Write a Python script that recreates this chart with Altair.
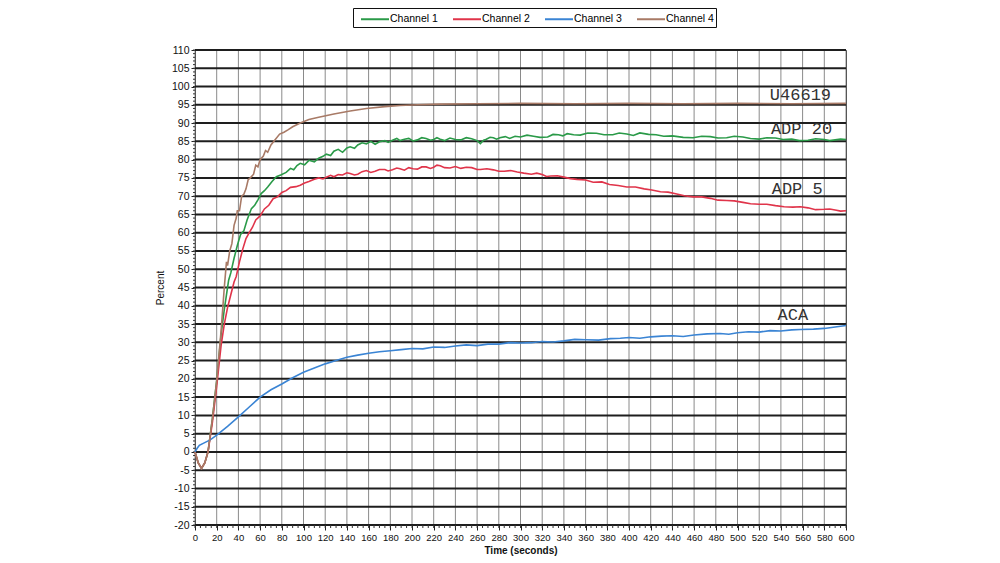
import altair as alt
import pandas as pd

# ---- data ----
ch1_t = [0, 3, 6, 9, 12, 16, 20, 24, 27, 29, 31, 33, 36, 39, 42, 45, 48, 52, 55, 58, 61, 64, 67, 71, 75, 79, 84, 88, 91, 94, 97, 101, 105, 110, 114, 118, 121, 125, 128, 132, 136, 140, 143, 147, 150, 154, 158, 162, 166, 170, 175, 178, 182, 186, 189, 193, 197, 201, 205, 209, 213, 217, 220, 223, 226, 230, 235, 240, 245, 250, 255, 260, 263, 266, 268, 272, 275, 278, 281, 286, 290, 295, 300, 306, 312, 318, 325, 330, 335, 339, 343, 349, 355, 362, 370, 377, 385, 391, 398, 404, 410, 418, 425, 432, 440, 450, 459, 467, 475, 482, 490, 497, 505, 512, 520, 527, 535, 542, 550, 557, 565, 572, 580, 585, 590, 595, 600]
ch1_v = [0, -3, -4.5, -3, 0, 9, 19.5, 32, 39, 43, 47, 49, 53, 56.5, 59.5, 60.5, 63.5, 66.6, 67.5, 69, 70.7, 71.5, 72.5, 74, 75.3, 75.8, 76.5, 77.6, 77.2, 78.4, 79, 78.6, 79.8, 79.4, 80.4, 80.9, 81.5, 81.1, 82.3, 82.8, 82, 83.2, 83.5, 83.1, 84, 84.6, 84.3, 85, 84.2, 84.9, 85.2, 84.7, 85.3, 85.8, 85.2, 85.6, 85.8, 85.1, 85.4, 86, 85.8, 85.3, 85.5, 86, 85.6, 85.2, 85.9, 85.5, 85.4, 86, 85.7, 85.2, 84.4, 85.3, 85.5, 86.1, 86, 85.6, 86, 86.3, 85.8, 86.4, 86.2, 86.7, 86.4, 86.1, 86.2, 86.9, 86.8, 86.5, 87.1, 86.8, 86.7, 87.3, 87.2, 86.8, 86.8, 87.3, 87, 86.6, 87.3, 86.9, 86.8, 86.4, 86.5, 86.1, 86, 86.4, 86.3, 85.9, 86, 86.4, 86.2, 85.8, 85.6, 86, 85.9, 85.5, 85.6, 85.2, 85.3, 85.7, 85.5, 85.2, 85.4, 85.6, 85.5]

ch2_t = [0, 3, 6, 9, 12, 16, 20, 24, 27, 30, 33, 36, 38, 41, 44, 47, 50, 53, 56, 60, 64, 68, 72, 76, 80, 84, 88, 93, 97, 101, 105, 110, 114, 118, 121, 125, 128, 132, 136, 140, 143, 147, 150, 154, 158, 162, 166, 170, 175, 178, 182, 186, 189, 193, 197, 201, 205, 209, 213, 217, 220, 223, 226, 230, 235, 240, 245, 250, 255, 260, 263, 269, 275, 280, 285, 291, 297, 303, 310, 315, 320, 324, 328, 334, 340, 346, 352, 360, 367, 375, 382, 390, 398, 406, 414, 421, 429, 436, 444, 451, 459, 467, 475, 482, 490, 497, 505, 512, 520, 527, 535, 543, 551, 558, 565, 572, 580, 585, 590, 595, 600]
ch2_v = [0, -3, -4.5, -3, 0, 8, 18, 29, 35, 39.5, 43, 46.5, 48, 52, 55.5, 58.4, 60, 61.5, 63.5, 64.6, 66.5, 67.5, 69.3, 69.8, 71, 71.5, 72.4, 72.6, 73, 73.6, 74, 74.6, 75, 74.7, 75.2, 75.7, 75.3, 75.9, 75.8, 76.4, 76.2, 75.8, 76, 76.7, 77, 76.5, 76.8, 77.3, 77.3, 76.9, 77.2, 77.7, 77.5, 77.1, 77.8, 77.5, 77.4, 78, 78, 77.6, 77.9, 78.5, 78.3, 77.8, 77.7, 78.1, 77.6, 77.9, 77.8, 77.3, 77.3, 77.5, 77.2, 76.8, 76.8, 77, 76.6, 76.3, 76, 76.3, 75.9, 75.4, 75.5, 75.6, 75.2, 74.8, 74.6, 74.4, 73.8, 73.9, 73.2, 72.9, 72.5, 72.5, 72, 71.7, 71.2, 71.1, 70.6, 70.1, 69.8, 69.8, 69.4, 68.9, 68.8, 68.7, 68.3, 67.9, 67.8, 67.8, 67.4, 67.1, 67, 67.1, 66.8, 66.3, 66.4, 66.5, 66.2, 65.9, 66]

ch3_t = [0, 2, 4, 8, 14, 20, 30, 40, 50, 60, 70, 80, 90, 100, 110, 120, 130, 140, 150, 160, 170, 180, 190, 200, 210, 220, 230, 240, 250, 260, 270, 280, 290, 300, 310, 320, 330, 340, 350, 360, 372, 383, 392, 400, 410, 420, 430, 440, 450, 460, 472, 484, 492, 500, 510, 520, 530, 540, 550, 558, 570, 580, 590, 600]
ch3_v = [0, 1, 1.8, 2.4, 3.3, 4.6, 7, 9.6, 12.3, 15, 17, 18.6, 20.3, 21.8, 23, 24.1, 25, 25.9, 26.5, 27, 27.4, 27.7, 28, 28.3, 28.2, 28.7, 28.6, 29, 29.3, 29.1, 29.5, 29.5, 29.9, 29.8, 29.9, 30.2, 30.1, 30.4, 30.8, 30.7, 30.6, 31, 31.1, 31.3, 31.1, 31.5, 31.7, 31.8, 31.6, 32, 32.3, 32.4, 32.2, 32.6, 32.9, 32.8, 33.2, 33.1, 33.4, 33.5, 33.6, 33.8, 34.2, 34.6]

ch4_t = [0, 3, 6, 9, 12, 16, 20, 24, 27, 29, 30, 32, 34, 36, 38, 39, 41, 43, 45, 47, 49, 51, 54, 56, 58, 60, 63, 65, 67, 70, 74, 78, 82, 86, 90, 97, 105, 114, 128, 143, 158, 175, 189, 205, 226, 260, 300, 350, 400, 450, 500, 550, 600]
ch4_v = [0, -3, -4.5, -3, 0, 9, 19.5, 33, 45, 52, 51, 55, 57, 62, 64, 66, 66, 70, 70.5, 72, 74.5, 75, 76, 78.5, 78, 80, 81, 82.5, 82, 84, 85.5, 87, 87.5, 88.2, 89, 90, 91, 91.6, 92.5, 93.3, 94, 94.5, 94.8, 95, 95.2, 95.3, 95.4, 95.3, 95.4, 95.3, 95.4, 95.3, 95.4]

channels = ["Channel 1", "Channel 2", "Channel 3", "Channel 4"]
colors = ["#2a9a48", "#e0344a", "#3a84d4", "#a87a66"]

labels_text = ["U46619", "ADP 20", "ADP 5", "ACA"]
labels_t = [558, 559, 555, 551]
labels_v = [97.6, 88.5, 72.0, 37.6]

x_grid = list(range(0, 601, 20))
y_grid = list(range(-20, 111, 5))
x_minor = list(range(0, 601, 5))
y_minor = list(range(-20, 111, 1))

# ---- build tables ----
rows = []
for name, ts, vs in zip(channels, [ch1_t, ch2_t, ch3_t, ch4_t], [ch1_v, ch2_v, ch3_v, ch4_v]):
    for t, v in zip(ts, vs):
        rows.append({"t": t, "v": v, "channel": name})
df = pd.DataFrame(rows)
lab = pd.DataFrame({"text": labels_text, "t": labels_t, "v": labels_v})

W, H = 651, 475
FONT = "Liberation Sans"

xscale = alt.Scale(domain=[0, 600], nice=False, zero=False)
yscale = alt.Scale(domain=[-20, 110], nice=False, zero=False)

xaxis = alt.Axis(
    values=x_grid, grid=False, tickSize=5, tickColor="#222", domainColor="#222",
    labelFont=FONT, labelFontSize=9.5, labelColor="#111", labelFlush=False,
    labelOverlap=False, labelPadding=2, labelExpr="'' + datum.value",
    title="Time (seconds)", titleFont=FONT, titleFontSize=10, titleFontWeight="bold",
    titleColor="#111", titlePadding=4,
)
yaxis = alt.Axis(
    values=y_grid, grid=False, tickSize=4, tickColor="#222", domainColor="#222",
    labelFont=FONT, labelFontSize=10.5, labelColor="#111",
    labelOverlap=False, labelPadding=2, labelExpr="'' + datum.value",
    title="Percent", titleFont=FONT, titleFontSize=10, titleFontWeight="normal",
    titleColor="#111", titlePadding=6,
)

vgrid = alt.Chart(pd.DataFrame({"t": x_grid})).mark_rule(color="#8a8a8a", strokeWidth=1).encode(
    x=alt.X("t:Q", scale=xscale, axis=xaxis)
)
hgrid = alt.Chart(pd.DataFrame({"v": y_grid})).mark_rule(color="#1e1e1e", strokeWidth=2).encode(
    y=alt.Y("v:Q", scale=yscale, axis=yaxis)
)
xminor = alt.Chart(pd.DataFrame({"t": x_minor})).mark_rule(color="#333", strokeWidth=1).encode(
    x=alt.X("t:Q", scale=xscale, axis=xaxis), y=alt.value(H), y2=alt.value(H + 3)
)
yminor = alt.Chart(pd.DataFrame({"v": y_minor})).mark_rule(color="#333", strokeWidth=1).encode(
    y=alt.Y("v:Q", scale=yscale, axis=yaxis), x=alt.value(-2), x2=alt.value(0)
)

lines = alt.Chart(df).mark_line(strokeWidth=1.6).encode(
    x=alt.X("t:Q", scale=xscale, axis=xaxis),
    y=alt.Y("v:Q", scale=yscale, axis=yaxis),
    color=alt.Color(
        "channel:N",
        scale=alt.Scale(domain=channels, range=colors),
        legend=alt.Legend(
            title=None, orient="none", legendX=158, legendY=-42, direction="horizontal",
            symbolType="M-1.75,0H1.75", symbolSize=256, symbolStrokeWidth=2, symbolOffset=11,
            labelFont=FONT, labelFontSize=10.5, labelColor="#000", labelOffset=6,
            columnPadding=9, padding=2, strokeColor="#111", fillColor="white",
        ),
    ),
)

texts = alt.Chart(lab).mark_text(
    font="Liberation Mono", fontSize=17, color="#333", align="center", baseline="middle"
).encode(
    x=alt.X("t:Q", scale=xscale, axis=xaxis),
    y=alt.Y("v:Q", scale=yscale, axis=yaxis),
    text="text:N",
)

chart = alt.layer(vgrid, hgrid, xminor, yminor, lines, texts).properties(
    width=W, height=H,
    autosize=alt.AutoSizeParams(type="none"),
    padding={"left": 195, "top": 50, "right": 154, "bottom": 38},
    background="white",
).configure_view(stroke="#222", strokeWidth=1).configure_axis(labelOverlap=False)

chart.save("out.html", embed_options={"renderer": "svg", "actions": False})
